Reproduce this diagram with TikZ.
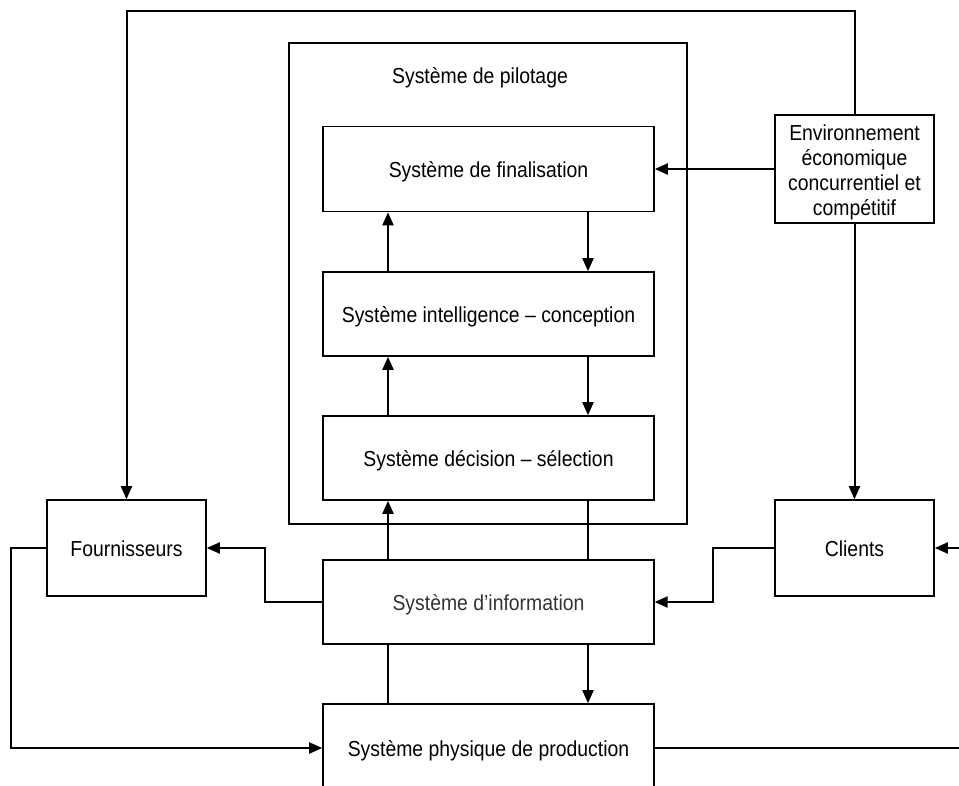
\documentclass[tikz,border=0pt]{standalone}
\usepackage{fontspec}
\setmainfont{Liberation Sans}
\usetikzlibrary{arrows.meta,calc}
\newcommand{\tx}[1]{\scalebox{1}[1.12]{#1}}
\begin{document}
\begin{tikzpicture}[x=1pt,y=-1pt,
  txt/.style={inner sep=0pt,font=\fontsize{19.4}{25}\selectfont},
  one/.style={text height=16pt,text depth=0pt},
  box/.style={txt,draw,line width=1.6pt,align=center},
  conn/.style={line width=2pt},
  arr/.style={conn,-{Triangle[length=13pt,width=11pt]}}]
\clip (0,0) rectangle (959,785);
\fill[white] (0,0) rectangle (959,785);
% pilotage frame
\draw[line width=1.6pt] (289,43) rectangle (687,524);
\node[txt,one] (pil) at (480,75) {\tx{Système de pilotage}};
% boxes
\node[box,one,minimum width=331pt,minimum height=85pt] (fin) at (488.5,169) {\tx{Système de finalisation}};
\node[box,one,minimum width=331pt,minimum height=84pt] (intel) at (488.5,314) {\tx{Système intelligence – conception}};
\node[box,one,minimum width=331pt,minimum height=84pt] (dec) at (488.5,458) {\tx{Système décision – sélection}};
\node[box,one,line width=1.2pt,text=black!80,minimum width=331pt,minimum height=84pt] (info) at (488.5,602) {\tx{Système d’information}};
\node[box,one,minimum width=331pt,minimum height=88pt] (prod) at (488.5,748) {\tx{Système physique de production}};
\node[box,one,minimum width=159pt,minimum height=96pt] (four) at (126.5,548) {\tx{Fournisseurs}};
\node[box,one,minimum width=159pt,minimum height=96pt] (cli) at (854.5,548) {\tx{Clients}};
\node[box,minimum width=159pt,minimum height=108pt] (env) at (854.5,169) {};
\node[txt,align=center] (envt) at (854.5,172) {\tx{Environnement}\\\tx{économique}\\\tx{concurrentiel et}\\\tx{compétitif}};
% helper coordinates
\coordinate (xl) at (388,0);
\coordinate (xr) at (588,0);
\coordinate (topy) at (0,11);
\coordinate (redgeA) at (959,548);
\coordinate (redgeB) at (959,748);
% connectors
\draw[arr] (env.north) -- (env.north |- topy) -| (four.north);
\draw[arr] (env.south) -- (cli.north);
\draw[arr] (env.west) -- (fin.east);
\draw[arr] (intel.north -| xl) -- (fin.south -| xl);
\draw[arr] (fin.south -| xr) -- (intel.north -| xr);
\draw[arr] (dec.north -| xl) -- (intel.south -| xl);
\draw[arr] (intel.south -| xr) -- (dec.north -| xr);
\draw[arr] (info.north -| xl) -- (dec.south -| xl);
\draw[conn] (dec.south -| xr) -- (info.north -| xr);
\draw[conn] (info.south -| xl) -- (prod.north -| xl);
\draw[arr] (info.south -| xr) -- (prod.north -| xr);
\draw[arr] (info.west) -- ++(-57,0) |- (four.east);
\draw[arr] (cli.west) -- ++(-61,0) |- (info.east);
\draw[arr] (four.west) -- ++(-35,0) |- (prod.west);
\draw[conn] (prod.east) -- (redgeB);
\draw[arr] (redgeA) -- (cli.east);
\end{tikzpicture}
\end{document}
